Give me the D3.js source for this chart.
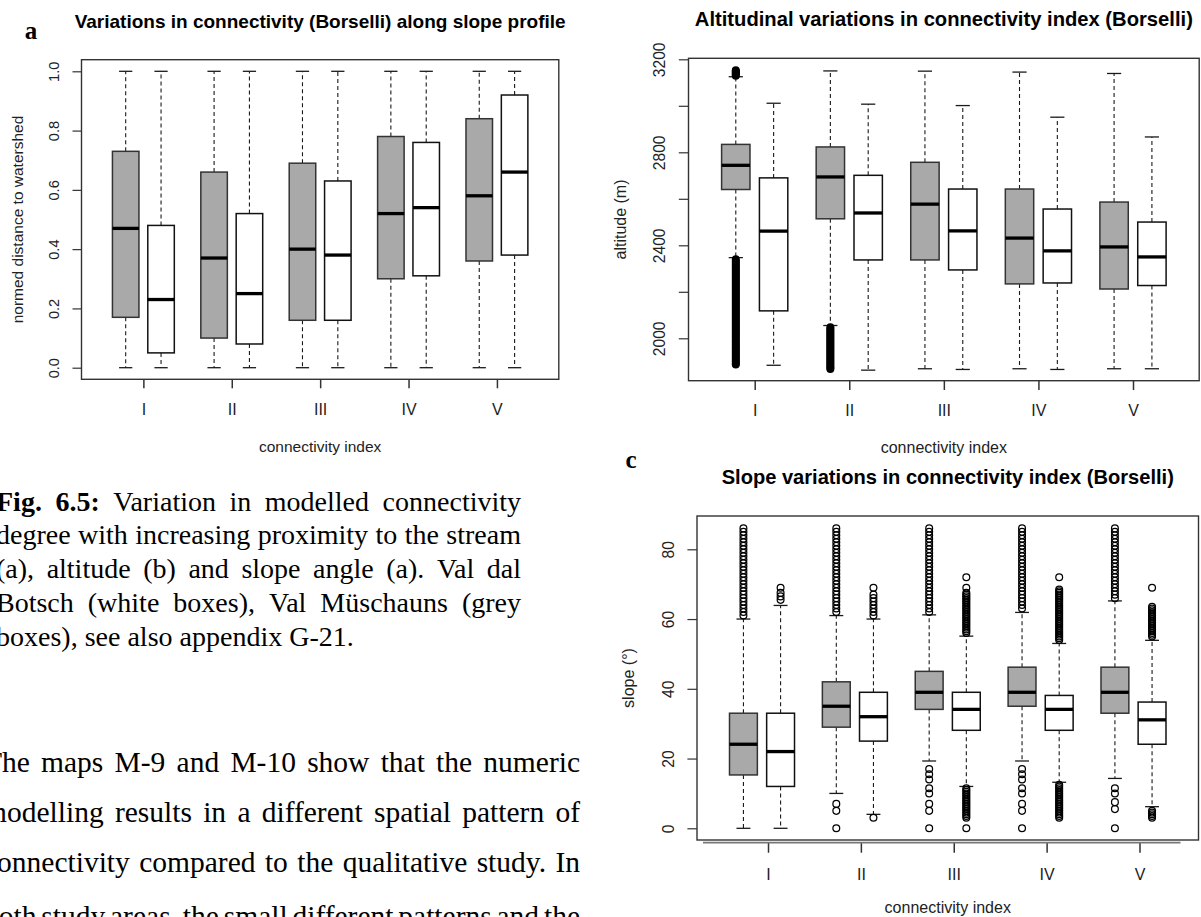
<!DOCTYPE html>
<html><head><meta charset="utf-8">
<script src="https://cdn.jsdelivr.net/npm/d3@7"></script>
<style>
html,body{margin:0;padding:0;background:#fff;overflow:hidden;}
svg{display:block;overflow:hidden;}
</style></head><body>
<svg id="c" width="1201" height="917"></svg>
<script>
// ---------------- DATA ----------------
const categories = ["I","II","III","IV","V"];

// each box: [lower whisker, Q1, median, Q3, upper whisker]
// Panel a: normed distance to watershed
const aGrey  = [[0,0.17,0.47,0.73,1],[0,0.10,0.37,0.66,1],[0,0.16,0.40,0.69,1],[0,0.30,0.52,0.78,1],[0,0.36,0.58,0.84,1]];
const aWhite = [[0,0.05,0.23,0.48,1],[0,0.08,0.25,0.52,1],[0,0.16,0.38,0.63,1],[0,0.31,0.54,0.76,1],[0,0.38,0.66,0.92,1]];
const aGreyOut  = [[],[],[],[],[]];
const aWhiteOut = [[],[],[],[],[]];
const aTicks = [0,0.2,0.4,0.6,0.8,1.0];
const aTickLabels = ["0.0","0.2","0.4","0.6","0.8","1.0"];

// Panel b: altitude (m)
const bGrey  = [[2347,2640,2744,2834,3125],[2055,2514,2694,2823,3150],[1869,2337,2577,2757,3149],[1869,2234,2431,2642,3145],[1869,2212,2393,2586,3139]];
const bWhite = [[1884,2118,2461,2690,3011],[1863,2337,2539,2701,3007],[1866,2294,2462,2642,3001],[1866,2238,2376,2556,2951],[1869,2227,2350,2500,2866]];
const bGreyOutI = [3129,3133,3137,3141,3145,3149,3153,
  2340,2333,2326,2319,2312,2305,2298,2291,2284,2277,2270,2263,2256,2249,2242,2235,2228,2221,2214,2207,
  2200,2193,2186,2179,2172,2165,2158,2151,2144,2137,2130,2123,2116,2109,2102,2095,2088,2081,2074,2067,
  2060,2053,2046,2039,2032,2025,2018,2011,2004,1997,1990,1983,1976,1969,1962,1955,1948,1941,1934,1927,
  1920,1913,1906,1899,1892,1887];
const bGreyOutII = [2048,2041,2034,2027,2020,2013,2006,1999,1992,1985,1978,1971,1964,1957,1950,1943,
  1936,1929,1922,1915,1908,1901,1894,1887,1880,1873,1868];
const bGreyOut  = [bGreyOutI, bGreyOutII, [], [], []];
const bWhiteOut = [[],[],[],[],[]];
const bTicks = [2000,2200,2400,2600,2800,3000,3200];
const bTickLabels = ["2000","","2400","","2800","","3200"];

// Panel c: slope (°)
const cGrey  = [[0,15.3,24.1,33,60],[10,29,35,42,61],[19.3,34.1,39,45,61.2],[19.3,35,39,46.2,61.9],[14.3,33,39,46.2,65.2]];
const cWhite = [[0,12,22,33,63.9],[4,25,32,39,60],[12,28.1,34.1,39,55.1],[13.2,28.1,34.1,38.1,53],[6.2,24.1,31.1,36.2,53.9]];
const cGreyOut = [
  [61,62,63,64,65,66,67,68,69,70,71,72,73,74,75,76,77,78,79,80,81,82,83,84,85,86],
  [0,5,7,62,63,64,65,66,67,68,69,70,71,72,73,74,75,76,77,78,79,80,81,82,83,84,85,86],
  [0,5,7,10,11.5,14,15.5,17,62,63,64,65,66,67,68,69,70,71,72,73,74,75,76,77,78,79,80,81,82,83,84,85,86],
  [0,5,7,10,11.5,14,15.5,17,63,64,65,66,67,68,69,70,71,72,73,74,75,76,77,78,79,80,81,82,83,84,85,86],
  [0,5.5,7.5,10,11.5,66,67,68,69,70,71,72,73,74,75,76,77,78,79,80,81,82,83,84,85,86]
];
const cWhiteOut = [
  [65.5,66.5,67.5,69],
  [3,61,62,63,64,65,66,67,69],
  [0,3,3.5,4,4.5,5,5.5,6,6.5,7,7.5,8,8.5,9,9.5,10,10.5,11,11.5,
   56,56.5,57,57.5,58,58.5,59,59.5,60,60.5,61,61.5,62,62.5,63,63.5,64,64.5,65,65.5,66,66.5,67,67.5,69,72],
  [3,3.5,4,4.5,5,5.5,6,6.5,7,7.5,8,8.5,9,9.5,10,10.5,11,11.5,12,12.5,
   54,54.5,55,55.5,56,56.5,57,57.5,58,58.5,59,59.5,60,60.5,61,61.5,62,62.5,63,63.5,64,64.5,65,65.5,66,66.5,67,67.5,68,68.5,72],
  [3,3.5,4,4.5,5,55,55.5,56,56.5,57,57.5,58,58.5,59,59.5,60,60.5,61,61.5,62,62.5,63,63.5,69]
];
const cTicks = [0,20,40,60,80];
const cTickLabels = ["0","20","40","60","80"];

// Texts
const titleA = "Variations in connectivity (Borselli) along slope profile";
const titleB = "Altitudinal variations in connectivity index (Borselli)";
const titleC = "Slope variations in connectivity index (Borselli)";
const xTitle = "connectivity index";
const yTitleA = "normed distance to watershed";
const yTitleB = "altitude (m)";
const yTitleC = "slope (°)";
const captionLines = [
  "Fig. 6.5: Variation in modelled connectivity",
  "degree with increasing proximity to the stream",
  "(a), altitude (b) and slope angle (a). Val dal",
  "Botsch (white boxes), Val Müschauns (grey",
  "boxes), see also appendix G-21."
];
const bodyLines = [
  "The maps M-9 and M-10 show that the numeric",
  "modelling results in a different spatial pattern of",
  "connectivity compared to the qualitative study. In",
  "both study areas, the small different patterns and the"
];

// ---------------- DRAW ----------------
const svg = d3.select("#c");
const serif = "'Liberation Serif','Times New Roman',Times,serif";
const sans = "'Liberation Sans',Arial,Helvetica,sans-serif";
const GREY = "#a9a9a9", INK = "#1a1a1a";

function panel(cfg) {
  const g = svg.append("g");
  const xs = d3.scaleLinear().domain([0.3, 5.7]).range([cfg.x0, cfg.x1]);
  const ys = d3.scaleLinear().domain(cfg.yDomain).range(cfg.yRange);
  const bw = xs(1.3) - xs(1.0);
  const capW = bw / 2;

  // y axis
  const yAx = g.append("g").attr("transform", `translate(${cfg.x0},0)`)
    .call(d3.axisLeft(ys).tickValues(cfg.yTicks).tickFormat((d, i) => cfg.yLabels[i])
      .tickSize(cfg.yTickLen).tickSizeOuter(0));
  yAx.select(".domain").remove();
  yAx.selectAll("line").attr("stroke", "#333").attr("stroke-width", 1.2);
  yAx.selectAll("text").attr("font-family", sans).attr("font-size", cfg.tickFs).attr("fill", "#222")
    .attr("x", 0).attr("y", 0).attr("dy", null).attr("text-anchor", "middle")
    .attr("transform", `translate(${cfg.yLabX - cfg.x0},0) rotate(-90)`);

  // x axis
  const xAx = g.append("g").attr("transform", `translate(${cfg.xShift},${cfg.xAxisY})`)
    .call(d3.axisBottom(xs).tickValues([1, 2, 3, 4, 5]).tickFormat((d, i) => categories[i])
      .tickSize(cfg.xTickLen).tickSizeOuter(0));
  xAx.select(".domain").remove();
  xAx.selectAll("line").attr("stroke", "#333").attr("stroke-width", 1.5);
  xAx.selectAll("text").attr("font-family", sans).attr("font-size", 16).attr("fill", "#222")
    .attr("y", cfg.xLabBase - cfg.xAxisY).attr("dy", null);

  // frame
  g.append("rect").attr("x", cfg.x0).attr("y", cfg.y0)
    .attr("width", cfg.x1 - cfg.x0).attr("height", cfg.y1 - cfg.y0)
    .attr("fill", "none").attr("stroke", "#333").attr("stroke-width", 1.4);

  const series = [
    { stats: cfg.grey, out: cfg.greyOut, off: -0.2, fill: GREY, stroke: "#333" },
    { stats: cfg.white, out: cfg.whiteOut, off: 0.2, fill: "#fff", stroke: "#111" }
  ];
  series.forEach(s => {
    s.stats.forEach((st, i) => {
      const cx = xs(i + 1 + s.off);
      const [lo, q1, med, q3, hi] = st;
      // whiskers
      g.append("line").attr("x1", cx).attr("x2", cx).attr("y1", ys(q3)).attr("y2", ys(hi))
        .attr("stroke", INK).attr("stroke-width", 1.1).attr("stroke-dasharray", "4,3");
      g.append("line").attr("x1", cx).attr("x2", cx).attr("y1", ys(q1)).attr("y2", ys(lo))
        .attr("stroke", INK).attr("stroke-width", 1.1).attr("stroke-dasharray", "4,3");
      [lo, hi].forEach(v => g.append("line").attr("x1", cx - capW / 2).attr("x2", cx + capW / 2)
        .attr("y1", ys(v)).attr("y2", ys(v)).attr("stroke", INK).attr("stroke-width", 1.3));
      // box
      g.append("rect").attr("x", cx - bw / 2).attr("y", ys(q3)).attr("width", bw)
        .attr("height", ys(q1) - ys(q3)).attr("fill", s.fill)
        .attr("stroke", s.stroke).attr("stroke-width", 1.5);
      g.append("line").attr("x1", cx - bw / 2).attr("x2", cx + bw / 2)
        .attr("y1", ys(med)).attr("y2", ys(med)).attr("stroke", "#000").attr("stroke-width", 3.3);
      // outliers
      g.selectAll(null).data(s.out[i]).enter().append("circle")
        .attr("cx", cx).attr("cy", d => ys(d)).attr("r", cfg.outR)
        .attr("fill", "none").attr("stroke", "#000").attr("stroke-width", cfg.outW);
    });
  });

  const midX = (cfg.x0 + cfg.x1) / 2;
  g.append("text").attr("x", midX).attr("y", cfg.titleBase).attr("text-anchor", "middle")
    .attr("font-family", sans).attr("font-weight", "bold").attr("font-size", cfg.titleFs)
    .attr("fill", "#000").text(cfg.title);
  g.append("text").attr("x", midX).attr("y", cfg.xTitleBase).attr("text-anchor", "middle")
    .attr("font-family", sans).attr("font-size", cfg.labFs).attr("fill", "#222").text(xTitle);
  g.append("text").attr("text-anchor", "middle")
    .attr("transform", `translate(${cfg.yTitleX},${(cfg.y0 + cfg.y1) / 2}) rotate(-90)`)
    .attr("font-family", sans).attr("font-size", cfg.labFs).attr("fill", "#222").text(cfg.yTitle);
  return { xs, ys, g };
}

panel({
  x0: 81.5, x1: 558.8, y0: 59.7, y1: 379.3,
  yDomain: [0, 1], yRange: [367.7, 71.3], yTicks: aTicks, yLabels: aTickLabels,
  yTickLen: 9, xTickLen: 9, xAxisY: 379.3, xShift: 0,
  yLabX: 58.5, yTitleX: 22.5, xLabBase: 415, xTitleBase: 451.5, titleBase: 28.3,
  tickFs: 14.6, labFs: 15.5, titleFs: 19, outR: 3.3, outW: 1.2,
  grey: aGrey, white: aWhite, greyOut: aGreyOut, whiteOut: aWhiteOut,
  title: titleA, yTitle: yTitleA
});
panel({
  x0: 688.5, x1: 1199.2, y0: 58.3, y1: 380.7,
  yDomain: [2000, 3200], yRange: [338.3, 59.3], yTicks: bTicks, yLabels: bTickLabels,
  yTickLen: 9.7, xTickLen: 9.3, xAxisY: 380.7, xShift: 0,
  yLabX: 665, yTitleX: 626, xLabBase: 416, xTitleBase: 453.3, titleBase: 26,
  tickFs: 15.6, labFs: 16, titleFs: 20.2, outR: 2.9, outW: 2.2,
  grey: bGrey, white: bWhite, greyOut: bGreyOut, whiteOut: bWhiteOut,
  title: titleB, yTitle: yTitleB
});
const pc = panel({
  x0: 697, x1: 1198.5, y0: 516, y1: 840,
  yDomain: [0, 80], yRange: [828.3, 549.3], yTicks: cTicks, yLabels: cTickLabels,
  yTickLen: 9.6, xTickLen: 10, xAxisY: 842.7, xShift: 6,
  yLabX: 674, yTitleX: 634, xLabBase: 880, xTitleBase: 913.3, titleBase: 484.3,
  tickFs: 15.6, labFs: 16, titleFs: 20.1, outR: 3.4, outW: 1.25,
  grey: cGrey, white: cWhite, greyOut: cGreyOut, whiteOut: cWhiteOut,
  title: titleC, yTitle: yTitleC
});
// offset under-line of panel c
pc.g.append("line").attr("x1", pc.xs(0.3) + 6).attr("x2", pc.xs(5.7) - 18)
  .attr("y1", 842.7).attr("y2", 842.7).attr("stroke", "#777").attr("stroke-width", 1.8);

// panel letters
svg.append("text").attr("x", 31).attr("y", 39).attr("text-anchor", "middle")
  .attr("font-family", serif).attr("font-weight", "bold").attr("font-size", 25).text("a");
svg.append("text").attr("x", 631).attr("y", 468).attr("text-anchor", "middle")
  .attr("font-family", serif).attr("font-weight", "bold").attr("font-size", 25).text("c");

// justified text blocks
function para(lines, o) {
  lines.forEach((line, li) => {
    const words = line.split(" ");
    const els = words.map((w, wi) => svg.append("text")
      .attr("font-family", serif).attr("font-size", o.size).attr("fill", "#000")
      .attr("font-weight", (li === 0 && wi < o.boldFirst) ? "bold" : "normal")
      .attr("y", o.y0 + li * o.dy + (li === 3 && o.lastShift ? o.lastShift : 0)).text(w));
    const widths = els.map(e => e.node().getComputedTextLength());
    const total = d3.sum(widths);
    const last = o.lastRagged && li === lines.length - 1;
    const gap = (!last && words.length > 1) ? (o.x1 - o.x0 - total) / (words.length - 1) : o.size * 0.25;
    let x = o.x0;
    els.forEach((e, i) => { e.attr("x", x); x += widths[i] + gap; });
  });
}
para(captionLines, { x0: -4, x1: 521, y0: 510.5, dy: 33.75, size: 28, boldFirst: 2, lastRagged: true });
para(bodyLines, { x0: -16, x1: 580, y0: 772, dy: 50, size: 29.5, boldFirst: 0, lastRagged: false, lastShift: 4 });
</script>
</body></html>
